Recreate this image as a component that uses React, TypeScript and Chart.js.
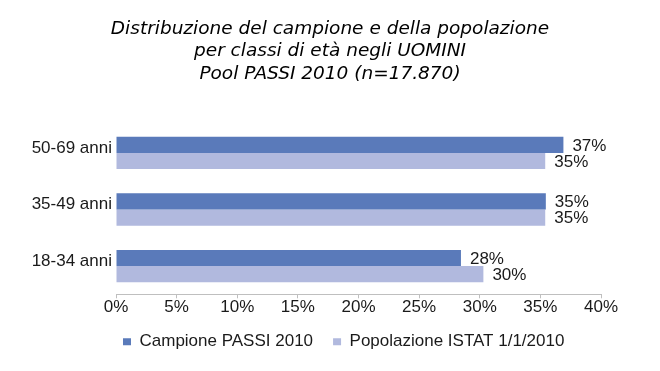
import React, { useEffect, useRef } from "react";
import { Chart, registerables } from "chart.js";

Chart.register(...registerables);

const titleLines = [
  "Distribuzione del campione e della popolazione",
  "per classi di età negli UOMINI",
  "Pool PASSI 2010 (n=17.870)",
];
const categories = ["50-69 anni", "35-49 anni", "18-34 anni"];
const seriesNames = ["Campione PASSI 2010", "Popolazione ISTAT 1/1/2010"];
const campione = [36.9, 35.45, 28.45];
const popolazione = [35.4, 35.4, 30.3];
const xMin = 0;
const xMax = 40;
const xStep = 5;

const DARK = "#5A7ABA";
const LIGHT = "#B1B9DE";
const TEXT = "#1a1a1a";
const FONT = "'Liberation Sans', Arial, sans-serif";

const valueLabels = {
  id: "valueLabels",
  afterDatasetsDraw(chart: any) {
    const ctx = chart.ctx;
    ctx.save();
    ctx.font = `17px ${FONT}`;
    ctx.fillStyle = TEXT;
    ctx.textAlign = "left";
    ctx.textBaseline = "middle";
    chart.data.datasets.forEach((ds: any, di: number) => {
      const meta = chart.getDatasetMeta(di);
      meta.data.forEach((el: any, i: number) => {
        const v = ds.data[i];
        ctx.fillText(`${Number(v).toFixed(0)}%`, el.x + 9, el.y + 1);
      });
    });
    ctx.restore();
  },
};

const legendShift = {
  id: "legendShift",
  afterLayout(chart: any) {
    const l = chart.legend;
    if (l) {
      l.left += 13.7;
      l.right += 13.7;
    }
  },
};

export default function App() {
  const ref = useRef<HTMLCanvasElement | null>(null);
  useEffect(() => {
    if (!ref.current) return;
    const chart = new Chart(ref.current, {
      type: "bar",
      data: {
        labels: categories,
        datasets: [
          {
            label: seriesNames[0],
            data: campione,
            backgroundColor: DARK,
            borderWidth: 0,
            yAxisID: "y",
            categoryPercentage: 0.571,
            barPercentage: 1,
          },
          {
            label: seriesNames[1],
            data: popolazione,
            backgroundColor: LIGHT,
            borderWidth: 0,
            yAxisID: "y",
            categoryPercentage: 0.571,
            barPercentage: 1,
          },
        ],
      },
      options: {
        indexAxis: "y",
        responsive: false,
        animation: false,
        layout: { padding: { top: 0, left: 0, right: 0, bottom: 10.7 } },
        scales: {
          x: {
            min: xMin,
            max: xMax,
            ticks: {
              stepSize: xStep,
              padding: -1,
              color: TEXT,
              font: { family: FONT, size: 17 },
              callback: (v: any) => `${v}%`,
            },
            grid: {
              drawOnChartArea: false,
              drawTicks: true,
              tickLength: 4,
              color: "#BFBFBF",
            },
            border: { display: true, color: "#BFBFBF" },
            afterFit: (s: any) => {
              s.height = 19;
            },
          },
          y: {
            ticks: {
              padding: 4,
              labelOffset: -5,
              color: TEXT,
              font: { family: FONT, size: 17 },
            },
            grid: { display: false, drawTicks: false },
            border: { display: false },
            afterFit: (s: any) => {
              s.width = 116;
            },
          },
          rightPad: {
            type: "linear",
            position: "right",
            display: true,
            ticks: { display: false },
            grid: { display: false, drawTicks: false },
            border: { display: false },
            afterFit: (s: any) => {
              s.width = 59;
            },
          },
        },
        plugins: {
          title: {
            display: true,
            text: titleLines,
            color: "#000",
            font: { family: "'DejaVu Sans', Verdana, sans-serif", size: 18.5, style: "italic", weight: "normal", lineHeight: 1.205 },
            padding: { top: 18, bottom: 39.8 },
          },
          legend: {
            display: true,
            position: "bottom",
            labels: {
              boxWidth: 8,
              boxHeight: 7,
              padding: 20,
              color: TEXT,
              font: { family: FONT, size: 17 },
            },
          },
          tooltip: { enabled: false },
        },
      },
      plugins: [valueLabels, legendShift],
    } as any);
    return () => chart.destroy();
  }, []);
  return (
    <div style={{ position: "fixed", left: 0, top: 0, width: 660, height: 371, background: "#fff" }}>
      <canvas ref={ref} width={660} height={371} />
    </div>
  );
}
